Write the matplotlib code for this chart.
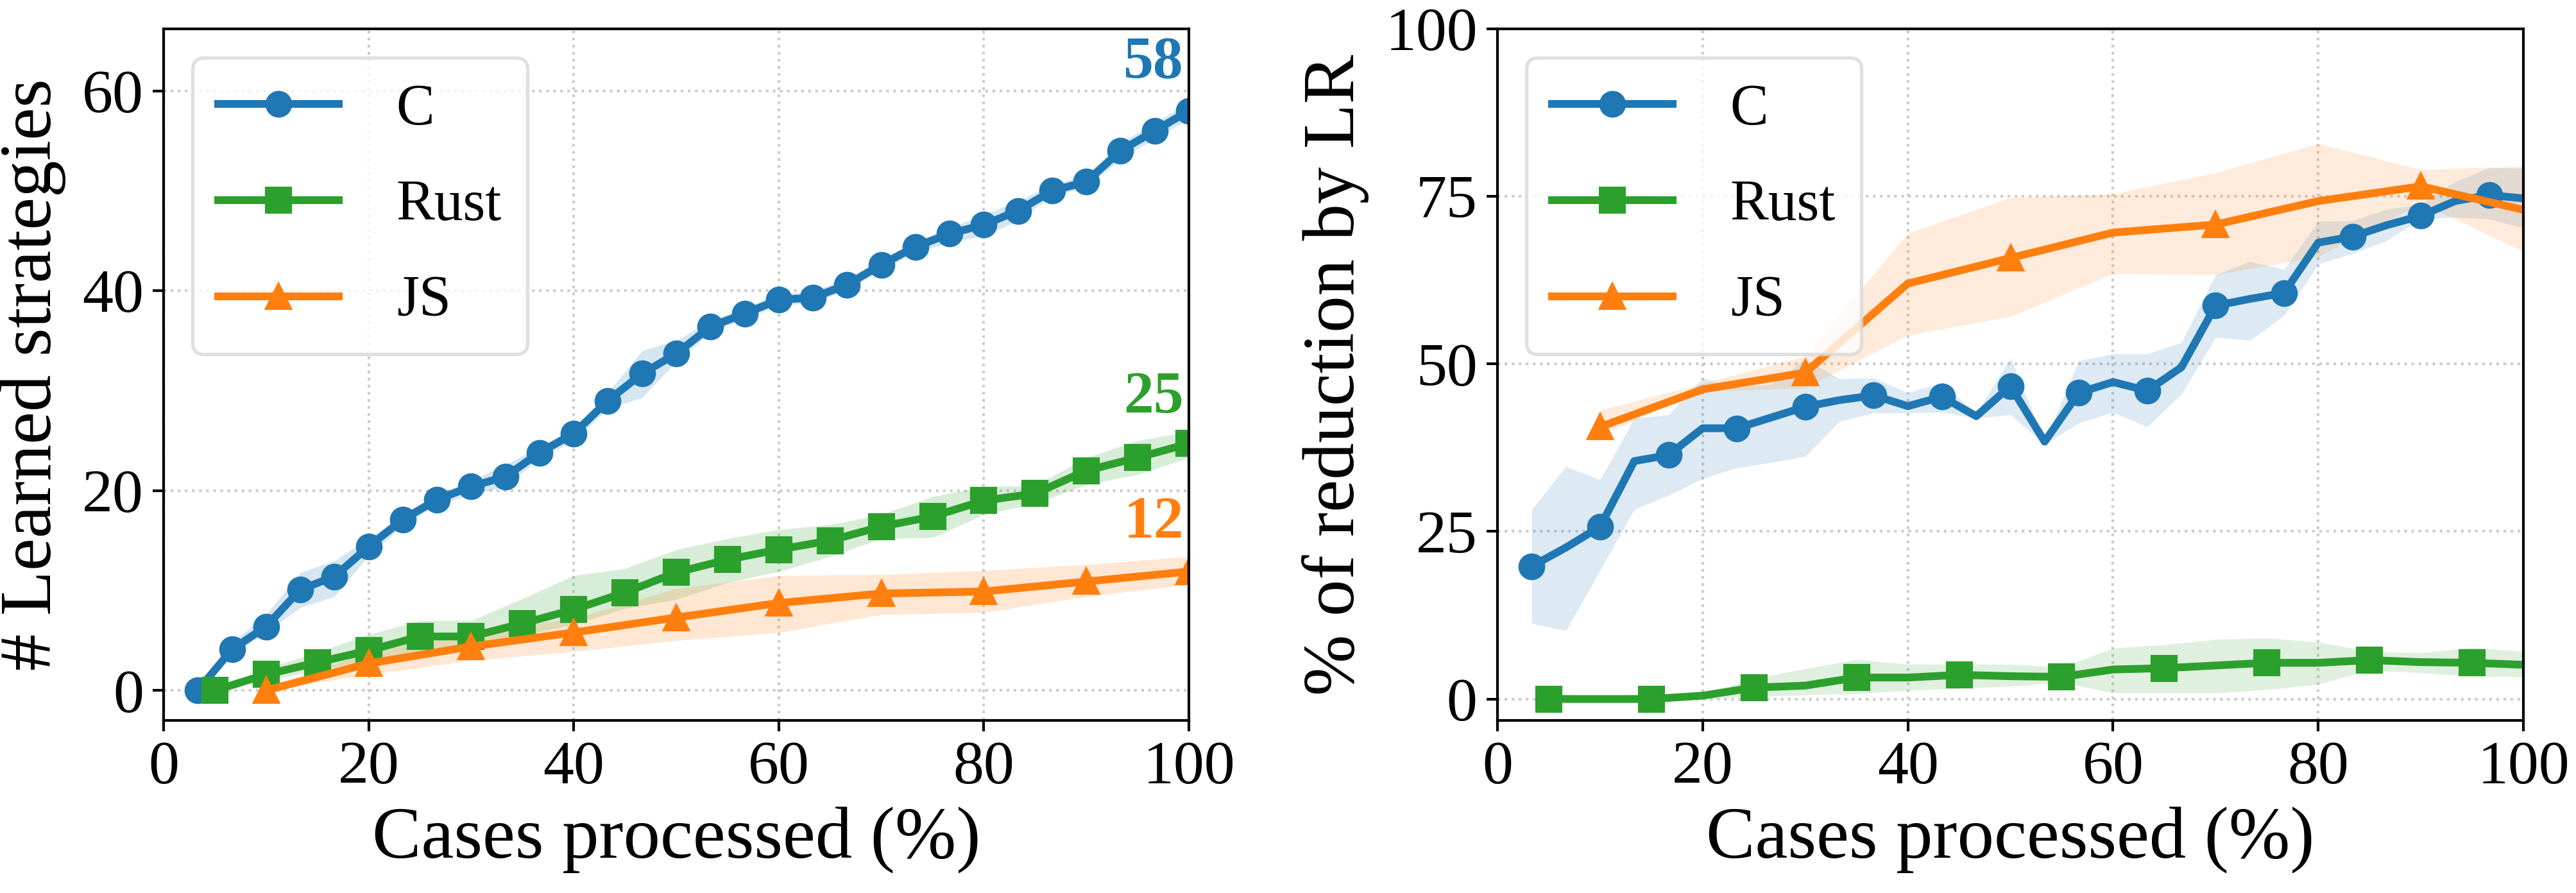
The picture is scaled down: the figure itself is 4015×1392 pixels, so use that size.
import numpy as np
import matplotlib
matplotlib.use("Agg")
import matplotlib.pyplot as plt

plt.rcParams['font.family'] = ['Liberation Serif', 'DejaVu Serif']

# ---------------- data: left panel (# learned strategies) ----------------
c_x = [100 * k / 30 for k in range(1, 31)]
c_left = [0, 4.1, 6.4, 10.1, 11.4, 14.4, 17.1, 19.1, 20.4, 21.4, 23.8, 25.7, 29.0, 31.7, 33.7,
          36.4, 37.7, 39.1, 39.3, 40.6, 42.6, 44.4, 45.7, 46.6, 48.0, 50.0, 50.9, 54.0, 56.0, 58.0]
c_left_lo = [0, 3.6, 5.8, 8.3, 9.4, 13.5, 16.5, 18.6, 19.6, 20.4, 23.2, 25.0, 28.2, 29.3, 32.9,
             35.8, 37.2, 38.5, 38.8, 40.1, 42.0, 43.9, 44.8, 45.5, 47.0, 49.5, 50.3, 53.2, 55.2, 57.2]
c_left_hi = [0, 4.8, 7.6, 11.8, 13.0, 15.2, 17.6, 19.6, 21.0, 22.6, 24.4, 26.2, 29.8, 34.0, 35.0,
             37.0, 38.3, 39.6, 40.0, 41.2, 43.2, 44.9, 46.3, 47.6, 49.0, 50.6, 51.6, 54.8, 56.8, 58.8]

rust_x = [5 * k for k in range(1, 21)]
rust_left = [0, 1.6, 2.8, 4.0, 5.4, 5.4, 6.7, 8.1, 9.8, 11.8, 13.1, 14.1, 15.0, 16.4, 17.4,
             19.0, 19.7, 22.0, 23.3, 24.7]
rust_left_lo = [0, 1.0, 2.0, 3.0, 4.0, 4.6, 5.5, 6.6, 8.2, 9.1, 10.8, 11.9, 13.4, 15.2, 15.3,
                17.6, 18.7, 20.6, 21.6, 23.3]
rust_left_hi = [0, 2.2, 3.8, 5.6, 7.0, 7.0, 9.2, 11.5, 12.2, 14.1, 15.2, 16.1, 16.6, 17.6, 19.4,
                20.4, 20.5, 23.3, 25.0, 25.9]

js_x = [10 * k for k in range(1, 11)]
js_left = [0, 2.7, 4.4, 5.8, 7.3, 8.75, 9.7, 9.9, 10.9, 11.9]
js_left_lo = [0, 1.6, 3.0, 3.9, 5.0, 5.8, 7.6, 7.8, 9.4, 10.6]
js_left_hi = [0.4, 3.8, 5.8, 7.2, 10.2, 11.5, 11.6, 12.0, 12.6, 13.4]

final_labels = ["58", "25", "12"]
final_label_y = [61.3, 27.8, 15.3]

# ---------------- data: right panel (% of reduction by LR) ----------------
c_right = [19.8, 22.6, 25.7, 35.5, 36.4, 40.4, 40.4, 42.0, 43.6, 44.6, 45.3, 43.7, 45.1, 42.2, 46.7,
           38.4, 45.7, 47.3, 46.0, 49.5, 58.7, 59.7, 60.6, 68.1, 69.0, 70.7, 72.1, 74.3, 75.2, 74.7]
c_right_lo = [11.3, 10.2, 19.2, 28.3, 30.4, 32.9, 34.5, 35.3, 36.2, 41.4, 42.7, 42.7, 42.8, 41.9, 42.4,
              38.0, 41.2, 42.8, 40.6, 45.5, 54.0, 53.5, 57.2, 64.9, 66.5, 68.4, 71.6, 71.9, 71.6, 70.3]
c_right_hi = [28.3, 34.7, 32.7, 41.9, 42.4, 47.9, 46.5, 47.0, 50.7, 47.8, 47.9, 45.7, 47.2, 42.6, 50.9,
              38.4, 50.5, 51.5, 51.5, 53.2, 63.3, 65.3, 64.1, 71.3, 71.4, 73.1, 73.8, 77.2, 79.3, 79.2]

rust_right = [0, 0, 0, 0.5, 1.7, 2.0, 3.2, 3.2, 3.6, 3.4, 3.3, 4.4, 4.6, 5.0, 5.4, 5.4, 5.8, 5.5, 5.4, 5.1]
rust_right_lo = [0, 0, 0, 0, 0.4, 0.6, 0.8, 1.3, 1.6, 1.9, 2.5, 0.9, 0.9, 0.9, 1.4, 2.2, 4.3, 3.9, 3.4, 3.3]
rust_right_hi = [0, 0, 0, 0.6, 3.1, 4.5, 5.9, 5.2, 5.2, 5.2, 4.7, 7.6, 8.1, 8.9, 9.1, 8.5, 7.1, 6.9, 7.7, 7.1]

js_right = [40.6, 46.2, 48.7, 62.0, 65.8, 69.6, 70.8, 74.3, 76.5, 73.0]
js_right_lo = [39.4, 45.9, 46.4, 54.3, 57.1, 63.5, 63.3, 66.0, 74.0, 66.8]
js_right_hi = [43.1, 47.1, 51.2, 69.5, 74.8, 75.4, 78.5, 82.9, 79.0, 79.5]

languages = ["C", "Rust", "JS"]
colors = ["#1f77b4", "#2ca02c", "#ff7f0e"]
markers = ["o", "s", "^"]

W, H, DPI = 4015, 1392, 300
fig = plt.figure(figsize=(W / DPI, H / DPI), dpi=DPI)
ax1 = fig.add_axes([255 / W, 1 - 1123 / H, (1853 - 255) / W, (1123 - 45) / H])
ax2 = fig.add_axes([2334 / W, 1 - 1123 / H, (3933 - 2334) / W, (1123 - 45) / H])

TICK_FS = 23
LABEL_FS = 27.5
LEG_FS = 21.5
LW = 2.9
MS = 9

def style(ax):
    ax.grid(True, linestyle=':', color='0.8', linewidth=1.0)
    ax.set_axisbelow(True)
    for s in ax.spines.values():
        s.set_linewidth(1.0)
    ax.tick_params(labelsize=TICK_FS, length=4, width=1.0)
    ax.set_xlim(0, 100)
    ax.set_xticks([0, 20, 40, 60, 80, 100])
    ax.set_xlabel("Cases processed (%)", fontsize=LABEL_FS, labelpad=4)

left_series = [(c_x, c_left, c_left_lo, c_left_hi),
               (rust_x, rust_left, rust_left_lo, rust_left_hi),
               (js_x, js_left, js_left_lo, js_left_hi)]
right_series = [(c_x, c_right, c_right_lo, c_right_hi),
                (rust_x, rust_right, rust_right_lo, rust_right_hi),
                (js_x, js_right, js_right_lo, js_right_hi)]

for (x, y, lo, hi), name, col, mk in zip(left_series, languages, colors, markers):
    ax1.fill_between(x, lo, hi, color=col, alpha=0.18, linewidth=0)
    ax1.plot(x, y, color=col, marker=mk, markersize=MS, linewidth=LW, label=name)

for (x, y, lo, hi), name, col, mk in zip(right_series, languages, colors, markers):
    ax2.fill_between(x, lo, hi, color=col, alpha=0.15, linewidth=0)
    ax2.plot(x, y, color=col, marker=mk, markersize=MS, linewidth=LW, label=name, markevery=2)

for txt, ty, col in zip(final_labels, final_label_y, colors):
    ax1.text(99.5, ty, txt, color=col, fontsize=22.5, fontweight='bold', ha='right', va='baseline')

style(ax1)
style(ax2)
ax1.set_ylim(-3.0, 66.2)
ax1.set_yticks([0, 20, 40, 60])
ax1.set_ylabel("# Learned strategies", fontsize=LABEL_FS, labelpad=6)
ax2.set_ylim(-3.2, 100)
ax2.set_yticks([0, 25, 50, 75, 100])
ax2.set_ylabel("% of reduction by LR", fontsize=LABEL_FS, labelpad=6)

for ax in (ax1, ax2):
    leg = ax.legend(loc='upper left', fontsize=LEG_FS, labelspacing=0.75, handlelength=2.1,
                    handletextpad=1.0, borderpad=0.45, borderaxespad=0.5,
                    fancybox=True, framealpha=0.8)
    leg.get_frame().set_edgecolor('0.85')
    leg.get_frame().set_linewidth(1.3)

fig.savefig("out.png", dpi=DPI)
